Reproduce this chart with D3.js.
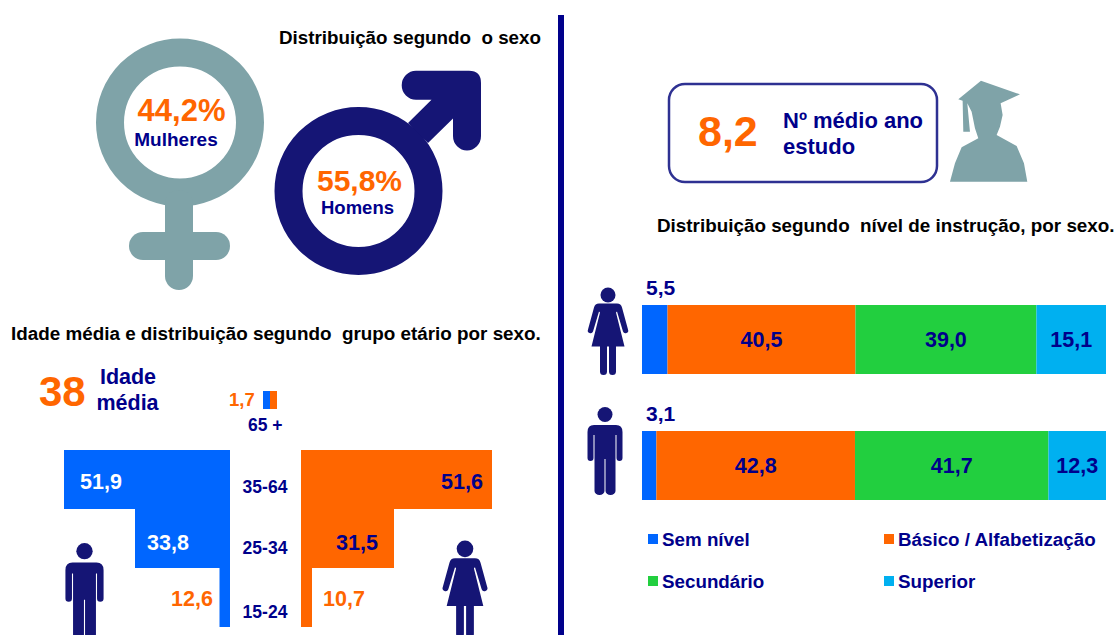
<!DOCTYPE html>
<html lang="pt">
<head>
  <meta charset="UTF-8">
  <title>Distribuição segundo sexo, idade e nível de instrução</title>
  <script src="https://d3js.org/d3.v7.min.js"></script>
  <style>
    body { margin: 0; background: #fff; }
    svg { display: block; }
    text { font-family: "Liberation Sans", Arial, sans-serif; font-weight: bold; white-space: pre; }
  </style>
</head>
<body>
<svg width="1118" height="635"></svg>
<script>
  // Data
  const sexLabels = ["Mulheres", "Homens"];
  const sexShares = ["44,2%", "55,8%"];
  const avgAge = 38;
  const avgSchooling = 8.2;

  const ageGroups = ["35-64", "25-34", "15-24"];
  const menAge = [51.9, 33.8, 12.6];
  const womenAge = [51.6, 31.5, 10.7];
  const oldestGroup = "65 +";
  const oldestShare = 1.7;

  const levels = ["Sem nível", "Básico / Alfabetização", "Secundário", "Superior"];
  const womenLevels = [5.5, 40.5, 39.0, 15.1];
  const menLevels = [3.1, 42.8, 41.7, 12.3];

  const navy = "#00008b", iconNavy = "#151575", orange = "#ff6600", blue = "#0066ff", teal = "#7fa3a8";
  const levelColors = [blue, orange, "#22cf3f", "#00b0f0"];
  const comma = d => d3.format(".1f")(d).replace(".", ",");

  const svg = d3.select("svg");

  function label(x, y, txt, size, fill, anchor = "start") {
    return svg.append("text")
        .attr("x", x).attr("y", y)
        .attr("text-anchor", anchor)
        .style("font-size", size + "px")
        .attr("fill", fill)
        .text(txt);
  }

  const manPath = "M-11,18H11Q17.5,18 17.5,25V51a3,3 0 0 1-6,0V28H10.5V84a5,4 0 0 1-10,0V52H-.5V84a5,4 0 0 1-10,0V28H-11.5V51a3,3 0 0 1-6,0V25Q-17.5,18-11,18Z";
  const womanPath = "M-9,16H9Q13,16 14,20L20,42a2.6,2.6 0 0 1-5,2L9,24 8,25 16.5,59H8V84a3.5,3.5 0 0 1-7,0V59H-1V84a3.5,3.5 0 0 1-7,0V59H-16.5L-8,25-9,24-15,44a2.6,2.6 0 0 1-5-2L-14,20Q-13,16-9,16Z";

  function person(kind, cx, top, k) {
    const g = svg.append("g")
        .attr("transform", `translate(${cx},${top}) scale(${k})`)
        .attr("fill", iconNavy);
    g.append("circle").attr("cy", 7.5).attr("r", 7.5);
    g.append("path").attr("d", kind === "man" ? manPath : womanPath);
  }

  // Divider
  svg.append("rect").attr("x", 558).attr("y", 15).attr("width", 6).attr("height", 620).attr("fill", navy);

  // Sex symbols
  label(279, 44, "Distribuição segundo  o sexo", 18.8, "#000");

  const female = svg.append("g").attr("fill", teal);
  female.append("circle").attr("cx", 180).attr("cy", 122.5).attr("r", 70)
      .attr("fill", "none").attr("stroke", teal).attr("stroke-width", 28);
  female.append("rect").attr("x", 165).attr("y", 190).attr("width", 28).attr("height", 100).attr("rx", 14);
  female.append("rect").attr("x", 129).attr("y", 232).attr("width", 101).attr("height", 28).attr("rx", 14);

  const male = svg.append("g").attr("fill", iconNavy);
  male.append("circle").attr("cx", 358.5).attr("cy", 191).attr("r", 70)
      .attr("fill", "none").attr("stroke", iconNavy).attr("stroke-width", 28);
  male.append("path").attr("d",
    "M408,123L431.5,99.7H416A14.3,14.5 0 0 1 416,70.7H469Q481,70.7 481,83V136A14,14.5 0 0 1 453,136V118.5L428,143Z");

  label(181.5, 121, sexShares[0], 31, orange, "middle");
  label(176, 146, sexLabels[0], 19, navy, "middle");
  label(359.5, 191, sexShares[1], 30, orange, "middle");
  label(357.5, 214, sexLabels[1], 18.5, navy, "middle");

  // Age pyramid
  label(11, 340, "Idade média e distribuição segundo  grupo etário por sexo.", 18.85, "#000");
  label(39, 406, avgAge, 42, orange);
  label(128, 384, "Idade", 21.5, navy, "middle");
  label(127.5, 410, "média", 21.5, navy, "middle");

  const yAge = d3.scaleBand().domain(ageGroups).range([450, 627]);

  // the bars in the source are not proportional, so each side gets its own piecewise scale
  const menWidth = d3.scaleLinear().domain([1.7, 12.6, 33.8, 51.9]).range([7, 10.5, 95, 166]);
  const womenWidth = d3.scaleLinear().domain([1.7, 10.7, 31.5, 51.6]).range([7, 11, 93, 191]);

  const menRight = 230, womenLeft = 301;

  svg.selectAll(".men").data(menAge).enter().append("rect")
      .attr("class", "men")
      .attr("x", d => menRight - menWidth(d))
      .attr("y", (d, i) => yAge(ageGroups[i]))
      .attr("width", d => menWidth(d))
      .attr("height", yAge.bandwidth())
      .attr("fill", blue);

  svg.selectAll(".women").data(womenAge).enter().append("rect")
      .attr("class", "women")
      .attr("x", womenLeft)
      .attr("y", (d, i) => yAge(ageGroups[i]))
      .attr("width", d => womenWidth(d))
      .attr("height", yAge.bandwidth())
      .attr("fill", orange);

  // 65+ sits apart from the other rows
  svg.append("rect").attr("x", 270 - menWidth(oldestShare)).attr("y", 391)
      .attr("width", menWidth(oldestShare)).attr("height", 18).attr("fill", blue);
  svg.append("rect").attr("x", 270).attr("y", 391)
      .attr("width", womenWidth(oldestShare)).attr("height", 18).attr("fill", orange);
  label(229, 406, comma(oldestShare), 18.5, orange);
  label(248, 431, oldestGroup, 17.5, navy);

  const ageBaselines = [43, 45, 50];
  ageGroups.forEach((g, i) => {
    label(265, yAge(g) + ageBaselines[i], g, 17.5, navy, "middle");
  });

  const menX = [80, 147, 171], womenX = [441, 336, 323];
  const menFill = ["#fff", "#fff", orange], womenFill = [navy, navy, orange];
  const valueBaselines = [39, 41, 38];
  menAge.forEach((d, i) => label(menX[i], yAge(ageGroups[i]) + valueBaselines[i], comma(d), 21.5, menFill[i]));
  womenAge.forEach((d, i) => label(womenX[i], yAge(ageGroups[i]) + valueBaselines[i], comma(d), 21.5, womenFill[i]));

  person("man", 84.5, 543, 1.09);
  person("woman", 465, 540.5, 1.11);

  // Schooling box
  svg.append("rect").attr("x", 669).attr("y", 84).attr("width", 268).attr("height", 98).attr("rx", 16)
      .attr("fill", "#fff").attr("stroke", "#2e3192").attr("stroke-width", 2.5);
  label(698, 146, comma(avgSchooling), 43, orange);
  label(783, 128, "Nº médio ano", 22, navy);
  label(783, 154, "estudo", 22, navy);

  svg.append("path")
      .attr("transform", "translate(650,70) scale(0.3333)")
      .attr("fill", teal)
      .attr("d", "M993,32L1110,73 1052,100 1058,135 1050,170 1040,195 1100,228 1122,280 1132,335H900L915,280 935,232 985,205 975,175 965,125 952,100 960,185H940L938,92 925,88Z");

  // Education bars
  label(657, 232, "Distribuição segundo  nível de instrução, por sexo.", 18.85, "#000");

  const xLevel = d3.scaleLinear().domain([0, 100]).range([642, 1106]);
  const rows = [
    { key: "women", values: womenLevels, top: 305 },
    { key: "men", values: menLevels, top: 431 }
  ];

  rows.forEach(row => {
    // stack the four levels, last one closes on the right edge
    const ends = Array.from(d3.cumsum(row.values));
    const g = svg.append("g");
    g.selectAll("rect").data(row.values).enter().append("rect")
        .attr("x", (d, i) => xLevel(ends[i] - d))
        .attr("y", row.top)
        .attr("width", (d, i) => (i === 3 ? 1106 : xLevel(ends[i])) - xLevel(ends[i] - d))
        .attr("height", 69)
        .attr("fill", (d, i) => levelColors[i]);

    row.values.forEach((d, i) => {
      if (i === 0) {
        label(646, row.top - 10, comma(d), 21, navy);
      } else {
        const right = i === 3 ? 1106 : xLevel(ends[i]);
        label((xLevel(ends[i] - d) + right) / 2, row.top + 42, comma(d), 21.5, navy, "middle");
      }
    });
  });

  person("woman", 608, 287.5, 1);
  person("man", 605, 407, 1);

  // Legend
  const legendX = [648, 884], legendY = [534, 576];
  levels.forEach((name, i) => {
    const lx = legendX[i % 2], ly = legendY[Math.floor(i / 2)];
    svg.append("rect").attr("x", lx).attr("y", ly).attr("width", 10).attr("height", 10).attr("fill", levelColors[i]);
    label(lx + 14, ly + 12, name, 18.8, navy);
  });
</script>
</body>
</html>
